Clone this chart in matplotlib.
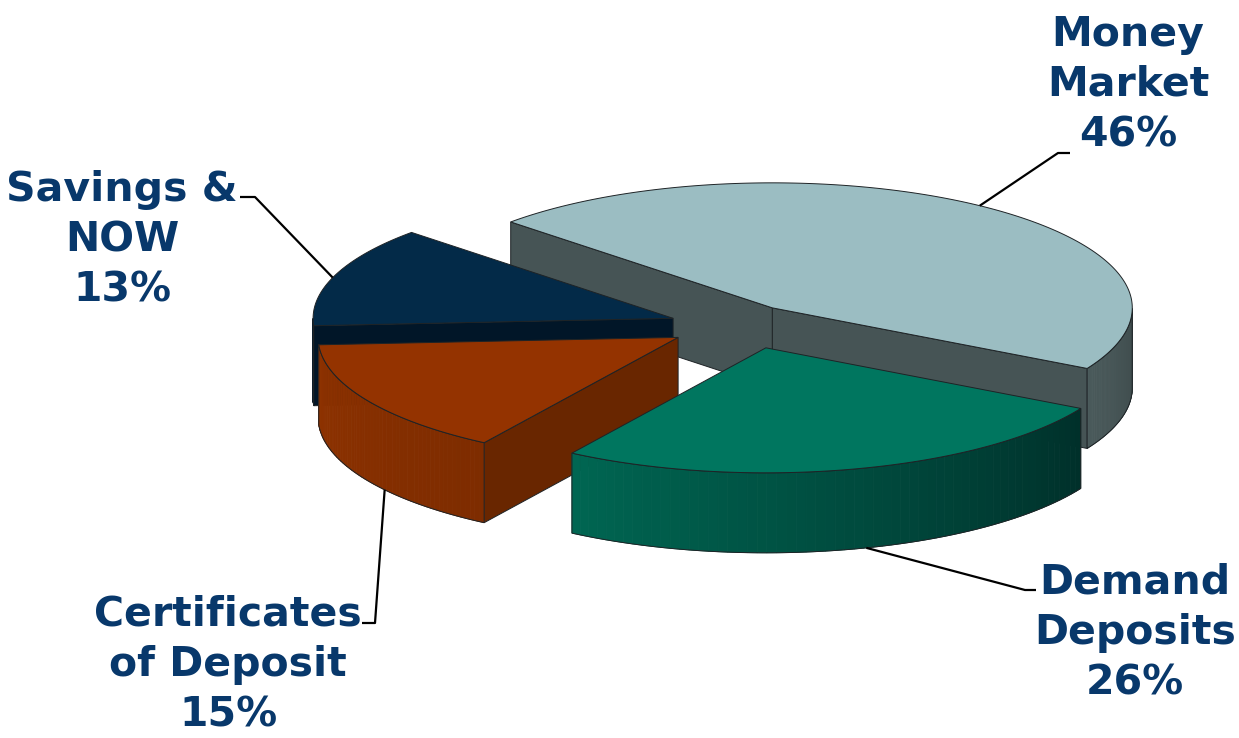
import numpy as np
import matplotlib
matplotlib.use("Agg")
import matplotlib.pyplot as plt
from matplotlib.patches import Polygon
import matplotlib.colors as mcolors

# ---------------- data ----------------
categories = ["Money\nMarket", "Savings &\nNOW", "Certificates\nof Deposit", "Demand\nDeposits"]
shares = [46, 13, 15, 26]
pct_labels = ["46%", "13%", "15%", "26%"]

# ---------------- style ----------------
top_colors = ["#9BBDC2", "#032A48", "#943300", "#00765F"]
wall_colors = ["#465455", "#011628", "#692600", "#004F3F"]
curve_light = ["#4A5A5B", "#022035", "#8E3200", "#006652"]
curve_dark = ["#3F4C4D", "#011526", "#7E2C00", "#00302A"]
text_color = "#08386B"
edge_color = "#1E2326"

W, H = 1239, 738
fig = plt.figure(figsize=(W / 100, H / 100), dpi=100)
ax = fig.add_axes([0, 0, 1, 1])
ax.set_xlim(0, W)
ax.set_ylim(H, 0)
ax.axis("off")

CX, CY = 734, 326
RX, RY = 360, 125
DEPTH = 80
EXPLODE = 0.18
START = -29.0
nudge = [(0, 0), (0, 0), (0, 0), (16, 0)]   # small per-slice layout shifts


def pt(c, theta, dz=0.0):
    t = np.radians(theta)
    return (c[0] + RX * np.cos(t), c[1] - RY * np.sin(t) + dz)


def mix(c1, c2, f):
    a = np.array(mcolors.to_rgb(c1))
    b = np.array(mcolors.to_rgb(c2))
    return tuple(a + (b - a) * f)


fracs = np.array(shares, dtype=float) / np.sum(shares)
bounds = START + 360.0 * np.concatenate([[0], np.cumsum(fracs)])

slices = []
for i in range(len(shares)):
    a, b = bounds[i], bounds[i + 1]
    mid = np.radians((a + b) / 2)
    c = (CX + EXPLODE * RX * np.cos(mid) + nudge[i][0],
         CY - EXPLODE * RY * np.sin(mid) + nudge[i][1])
    slices.append((a, b, c))

lw = 0.7
for i, (a, b, c) in enumerate(slices):
    # radial walls facing the viewer
    for ang, normal in ((a, a - 90), (b, b + 90)):
        if np.sin(np.radians(normal)) < 0:
            p_out = pt(c, ang)
            poly = [c, p_out, (p_out[0], p_out[1] + DEPTH), (c[0], c[1] + DEPTH)]
            ax.add_patch(Polygon(poly, closed=True, facecolor=wall_colors[i],
                                 edgecolor=edge_color, lw=lw, zorder=2 + 3 * i))
    # outer curved wall (front part)
    th = np.linspace(a, b, 400)
    vis = th[np.sin(np.radians(th)) <= 1e-9]
    if len(vis) > 1:
        t0, t1 = vis[0], vis[-1]
        nstrip = 60
        edges = np.linspace(t0, t1, nstrip + 1)
        for k in range(nstrip):
            tt = np.linspace(edges[k], edges[k + 1], 6)
            top = [pt(c, t) for t in tt]
            bot = [pt(c, t, DEPTH) for t in tt[::-1]]
            col = mix(curve_light[i], curve_dark[i], (k + 0.5) / nstrip)
            ax.add_patch(Polygon(top + bot, closed=True, facecolor=col,
                                 edgecolor=col, lw=0.6, zorder=2 + 3 * i))
        tt = np.linspace(t0, t1, 200)
        outline = [pt(c, t) for t in tt] + [pt(c, t, DEPTH) for t in tt[::-1]]
        ax.add_patch(Polygon(outline, closed=True, fill=False,
                             edgecolor=edge_color, lw=lw, zorder=2.5 + 3 * i))
    # top face
    tt = np.linspace(a, b, 300)
    top = [c] + [pt(c, t) for t in tt]
    ax.add_patch(Polygon(top, closed=True, facecolor=top_colors[i],
                         edgecolor=edge_color, lw=lw, zorder=3 + 3 * i))

# ---------------- labels & leader lines ----------------
label_pos = [(1128, 85), (122, 240), (228, 665), (1135, 633)]
elbows = [[(1058, 153), (1070, 153)],
          [(255, 197), (240, 197)],
          [(375, 623), (362, 623)],
          [(1025, 590), (1036, 590)]]
anchor_on_bottom = [False, False, True, True]
anchor_shift = [1, 1, 5, 2]

for i, (a, b, c) in enumerate(slices):
    m = (a + b) / 2 + anchor_shift[i]
    anc = pt(c, m, DEPTH if anchor_on_bottom[i] else 0)
    xs = [anc[0]] + [p[0] for p in elbows[i]]
    ys = [anc[1]] + [p[1] for p in elbows[i]]
    ax.plot(xs, ys, color="black", lw=1.6, zorder=20, solid_capstyle="butt")
    ax.text(label_pos[i][0], label_pos[i][1], categories[i] + "\n" + pct_labels[i],
            ha="center", va="center", fontsize=29.5, fontweight="bold",
            family="DejaVu Sans", color=text_color, linespacing=1.33, zorder=21)

fig.savefig("out.png", dpi=100)
